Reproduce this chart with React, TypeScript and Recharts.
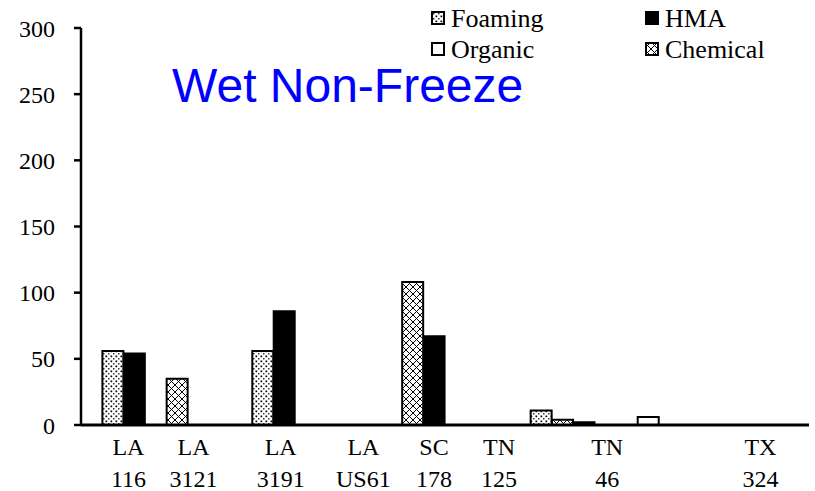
import { BarChart, Bar, XAxis, YAxis } from "recharts";

// the reference packs bars into narrow slots with free-floating site labels,
// so the x axis is a row of slots and the site names sit on a second axis
const slotCount = 34;
const siteNames = [
  ["LA", "116"],
  ["LA", "3121"],
  ["LA", "3191"],
  ["LA", "US61"],
  ["SC", "178"],
  ["TN", "125"],
  ["TN", "46"],
  ["TX", "324"],
];
const siteTicks = [2.15, 5.1, 9.05, 12.8, 16.0, 18.95, 23.85, 30.8];
const yTicks = [0, 50, 100, 150, 200, 250, 300];

const seriesNames = ["Foaming", "HMA", "Organic", "Chemical"];
const foamingSlots = [1, 8, 21];
const foamingValues = [56, 56, 11];
const hmaSlots = [2, 9, 16, 23];
const hmaValues = [54, 86, 67, 2];
const organicSlots = [26];
const organicValues = [6];
const chemicalSlots = [4, 15, 22];
const chemicalValues = [35, 108, 4];

const pick = (slots: number[], values: number[], i: number) => {
  const k = slots.indexOf(i);
  return k < 0 ? 0 : values[k];
};

const data = Array.from({ length: slotCount }, (_, i) => ({
  slot: i,
  Foaming: pick(foamingSlots, foamingValues, i),
  HMA: pick(hmaSlots, hmaValues, i),
  Organic: pick(organicSlots, organicValues, i),
  Chemical: pick(chemicalSlots, chemicalValues, i),
}));

const fills: Record<string, string> = {
  Foaming: "url(#dots)",
  HMA: "#000",
  Organic: "#fff",
  Chemical: "url(#hatch)",
};

const serif = "'Liberation Serif', 'Times New Roman', serif";

function SiteTick({ x, y, payload }: any) {
  const i = siteTicks.indexOf(payload.value);
  const lines = siteNames[i] || ["", ""];
  return (
    <text x={x} y={y} textAnchor="middle" fontFamily={serif} fontSize={24} fill="#000">
      <tspan x={x} y={y + 30}>{lines[0]}</tspan>
      <tspan x={x} y={y + 62}>{lines[1]}</tspan>
    </text>
  );
}

function Patterns() {
  return (
    <defs>
      <pattern id="dots" width="5" height="5" patternUnits="userSpaceOnUse">
        <rect width="5" height="5" fill="#fff" />
        <rect x="0.5" y="0.5" width="1.7" height="1.7" fill="#000" />
        <rect x="3" y="3" width="1.5" height="1.5" fill="#333" />
      </pattern>
      <pattern id="hatch" width="7" height="7" patternUnits="userSpaceOnUse">
        <rect width="7" height="7" fill="#fff" />
        <path d="M0,0 L7,7 M7,0 L0,7" stroke="#000" strokeWidth="1" />
      </pattern>
    </defs>
  );
}

export default function App() {
  const legendX = [431, 645];
  const legendY = [12, 43];
  return (
    <div style={{ position: "absolute", left: 0, top: 0, width: 815, height: 491, background: "#fff" }}>
      <BarChart
        width={815}
        height={491}
        data={data}
        margin={{ top: 28, right: 6, bottom: 0, left: 0 }}
        barCategoryGap={0}
        barGap={0}
      >
        <Patterns />
        <XAxis xAxisId="slot" dataKey="slot" type="category" hide />
        <XAxis
          xAxisId="site"
          type="number"
          domain={[0, slotCount]}
          ticks={siteTicks}
          allowDataOverflow
          interval={0}
          height={66}
          tickLine={false}
          tickSize={0}
          tickMargin={0}
          axisLine={{ stroke: "#000", strokeWidth: 3 }}
          tick={<SiteTick />}
        />
        <YAxis
          domain={[0, 300]}
          ticks={yTicks}
          width={81}
          tickSize={7}
          tickMargin={19}
          axisLine={{ stroke: "#000", strokeWidth: 2.5 }}
          tickLine={{ stroke: "#000", strokeWidth: 2.5 }}
          tick={{ fontFamily: serif, fontSize: 24, fill: "#000" }}
        />
        {seriesNames.map((s) => (
          <Bar
            key={s}
            xAxisId="slot"
            dataKey={s}
            stackId="a"
            fill={fills[s]}
            stroke="#000"
            strokeWidth={2}
            isAnimationActive={false}
          />
        ))}
      </BarChart>
      <svg width={815} height={491} style={{ position: "absolute", left: 0, top: 0, pointerEvents: "none" }}>
        <text x={172} y={102} fontFamily="'Liberation Sans', Arial, sans-serif" fontSize={48} fill="#0000ff">
          Wet Non-Freeze
        </text>
        {seriesNames.map((s, i) => {
          const x = legendX[i % 2];
          const y = legendY[Math.floor(i / 2)];
          return (
            <g key={s}>
              <rect x={x + 1} y={y} width={12} height={12} fill={fills[s]} stroke="#000" strokeWidth={2} />
              <text x={x + 20} y={y + 15} fontFamily={serif} fontSize={26} fill="#000">
                {s}
              </text>
            </g>
          );
        })}
      </svg>
    </div>
  );
}
